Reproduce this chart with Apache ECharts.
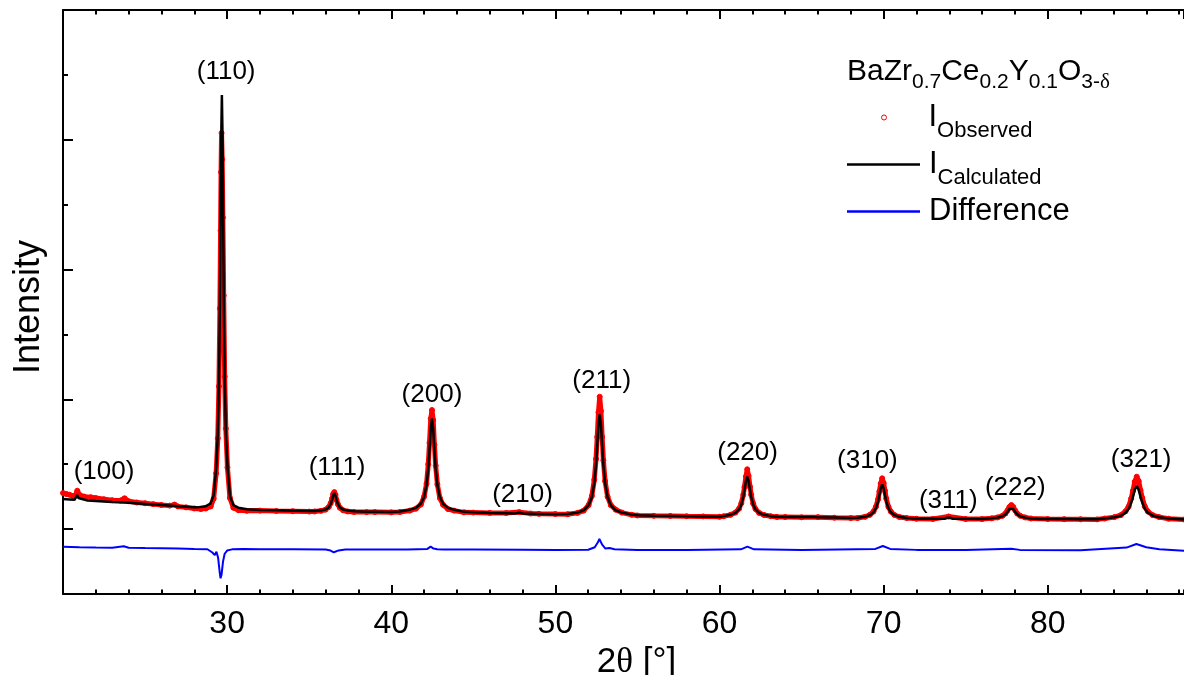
<!DOCTYPE html>
<html><head><meta charset="utf-8">
<script src="https://cdn.jsdelivr.net/npm/echarts@6/dist/echarts.min.js"></script>
<style>html,body{margin:0;padding:0;background:#fff}#c{width:1184px;height:675px}</style>
</head><body><div id="c"></div><script>
// ---- data (2θ in degrees, intensity in arbitrary units) ----
const observed = [
[20.0,1556],[20.2,1540],[20.4,1530],[20.6,1510],[20.75,1520],[20.87,1592],[21.0,1530],[21.3,1500],[21.7,1490],[22.0,1478],[22.5,1460],[23.0,1445],[23.5,1440],[23.75,1475],[24.0,1430],[24.5,1410],[25.0,1398],[25.5,1385],[26.0,1372],[26.5,1362],[26.8,1378],[27.0,1350],[27.5,1335],[28.0,1318],[28.4,1310],[28.7,1318],[29.0,1350],[29.18,1470],[29.33,1860],[29.43,2400],[29.50,3200],[29.56,4400],[29.60,5600],[29.63,6500],[29.66,7104],[29.70,6700],[29.74,5800],[29.79,4600],[29.85,3350],[29.92,2550],[30.02,1950],[30.17,1480],[30.38,1330],[30.7,1290],[31.2,1282],[32,1285],[33,1280],[34,1276],[35,1270],[35.33,1272],[35.72,1282],[35.99,1300],[36.19,1340],[36.31,1400],[36.395,1470],[36.46,1540],[36.53,1570],[36.60,1530],[36.665,1450],[36.75,1385],[36.87,1328],[37.07,1290],[37.34,1272],[37.73,1265],[38.5,1262],[39,1262],[40,1258],[40.53,1265],[41.13,1285],[41.505,1315],[41.805,1380],[42.0,1500],[42.15,1700],[42.255,2000],[42.33,2330],[42.405,2700],[42.48,2835],[42.555,2680],[42.63,2300],[42.705,1980],[42.81,1690],[42.96,1480],[43.155,1375],[43.455,1310],[43.83,1285],[44.43,1258],[45,1255],[46,1250],[47,1248],[47.8,1262],[48.5,1240],[49,1236],[50,1232],[50.75,1230],[51.35,1250],[51.725,1285],[52.025,1370],[52.22,1510],[52.37,1760],[52.475,2080],[52.55,2420],[52.625,2800],[52.70,3040],[52.775,2820],[52.85,2420],[52.925,2060],[53.03,1740],[53.18,1500],[53.375,1370],[53.675,1300],[54.05,1255],[54.65,1220],[55,1210],[56,1205],[57,1203],[58,1198],[59,1196],[60,1190],[60.25,1198],[60.67,1220],[60.97,1255],[61.19,1315],[61.33,1400],[61.45,1530],[61.52,1650],[61.61,1810],[61.69,1922],[61.77,1820],[61.86,1650],[61.93,1530],[62.05,1395],[62.19,1310],[62.41,1250],[62.71,1218],[63.13,1198],[63.5,1188],[64,1186],[65,1182],[66,1184],[67,1176],[68,1170],[68.41,1170],[68.87,1190],[69.16,1220],[69.38,1270],[69.53,1345],[69.66,1460],[69.74,1580],[69.82,1700],[69.91,1783],[70.0,1710],[70.08,1590],[70.16,1470],[70.29,1345],[70.44,1270],[70.66,1218],[70.95,1188],[71.41,1170],[72,1160],[73,1157],[73.96,1195],[75,1156],[76,1155],[76.58,1166],[76.94,1180],[77.24,1205],[77.42,1240],[77.54,1285],[77.66,1340],[77.78,1371],[77.90,1340],[78.02,1285],[78.14,1240],[78.32,1205],[78.62,1180],[78.98,1163],[80,1155],[81,1153],[82,1152],[83,1150],[83.47,1163],[84.06,1185],[84.45,1215],[84.74,1275],[84.93,1350],[85.08,1470],[85.19,1590],[85.30,1730],[85.42,1808],[85.54,1740],[85.65,1600],[85.76,1480],[85.91,1350],[86.10,1270],[86.40,1215],[86.79,1185],[87.37,1160],[88.3,1148]
];
const calculated = [
[20.0,1464],[20.4,1458],[20.7,1452],[20.8,1480],[20.87,1525],[20.94,1480],[21.05,1450],[21.5,1442],[22,1433],[23,1418],[24,1405],[25,1388],[26,1370],[27,1352],[28,1336],[28.2,1335],[28.68,1352],[28.98,1392],[29.18,1520],[29.33,1930],[29.43,2450],[29.50,3240],[29.56,4480],[29.60,5720],[29.64,7040],[29.68,7690],[29.72,7040],[29.76,5720],[29.80,4480],[29.86,3240],[29.93,2450],[30.03,1930],[30.18,1500],[30.38,1370],[30.68,1330],[31.2,1305],[32,1296],[33,1290],[34,1284],[35,1278],[35.33,1280],[35.72,1287],[35.99,1301],[36.19,1334],[36.31,1387],[36.395,1451],[36.46,1519],[36.53,1556],[36.60,1519],[36.665,1451],[36.75,1387],[36.87,1334],[37.07,1301],[37.34,1287],[37.73,1275],[38.5,1267],[39,1266],[40,1264],[40.53,1272],[41.13,1297],[41.505,1327],[41.805,1390],[42.0,1495],[42.15,1679],[42.255,1936],[42.33,2219],[42.405,2544],[42.48,2707],[42.555,2544],[42.63,2219],[42.705,1936],[42.81,1679],[42.96,1495],[43.155,1390],[43.455,1327],[43.83,1297],[44.43,1266],[45,1258],[46,1250],[47,1245],[47.6,1242],[47.8,1256],[48.0,1240],[49,1234],[50,1228],[50.75,1232],[51.35,1254],[51.725,1290],[52.025,1368],[52.22,1492],[52.37,1706],[52.475,1990],[52.55,2290],[52.625,2613],[52.70,2769],[52.775,2613],[52.85,2290],[52.925,1990],[53.03,1706],[53.18,1492],[53.375,1368],[53.675,1290],[54.05,1254],[54.65,1225],[55,1212],[56,1206],[57,1202],[58,1198],[59,1195],[60,1192],[60.25,1200],[60.67,1220],[60.97,1250],[61.19,1303],[61.33,1379],[61.45,1498],[61.52,1604],[61.61,1740],[61.69,1808],[61.77,1740],[61.86,1604],[61.93,1498],[62.05,1379],[62.19,1303],[62.41,1250],[62.71,1220],[63.13,1200],[63.5,1192],[64,1188],[65,1185],[65.7,1188],[66,1184],[67,1178],[68,1172],[68.41,1174],[68.87,1190],[69.16,1215],[69.38,1259],[69.53,1323],[69.66,1425],[69.74,1522],[69.82,1628],[69.91,1690],[70.0,1628],[70.08,1522],[70.16,1425],[70.29,1323],[70.44,1259],[70.66,1215],[70.95,1190],[71.41,1172],[71.8,1165],[72.5,1161],[73.2,1159],[73.7,1160],[73.85,1175],[73.96,1190],[74.07,1175],[74.22,1160],[75,1158],[76,1157],[76.58,1166],[76.94,1177],[77.24,1197],[77.42,1227],[77.54,1263],[77.66,1310],[77.78,1336],[77.90,1310],[78.02,1263],[78.14,1227],[78.32,1197],[78.62,1177],[78.98,1164],[79.5,1157],[80,1155],[81,1154],[82,1153],[83,1152],[83.47,1165],[84.06,1182],[84.45,1207],[84.74,1254],[84.93,1315],[85.08,1408],[85.19,1498],[85.30,1609],[85.42,1664],[85.54,1609],[85.65,1498],[85.76,1408],[85.91,1315],[86.10,1254],[86.40,1207],[86.79,1182],[87.37,1162],[88.3,1150]
];
const difference = [
[20.0,729],[21,720],[22,715],[23,712],[23.7,735],[24,712],[25,708],[26,705],[27,700],[28,693],[28.8,690],[29.1,640],[29.25,600],[29.35,650],[29.45,560],[29.55,330],[29.6,242],[29.66,300],[29.75,500],[29.85,620],[30.0,670],[30.3,688],[31,692],[32,690],[34,688],[36,685],[36.3,670],[36.5,643],[36.8,672],[37.2,684],[39,685],[41,685],[42.2,695],[42.4,730],[42.48,755],[42.58,700],[42.65,720],[42.8,690],[43.2,686],[45,684],[48,682],[50,680],[52,682],[52.4,720],[52.6,800],[52.68,848],[52.85,760],[53.05,700],[53.3,709],[53.6,690],[55,680],[58,678],[61.3,688],[61.7,729],[62.1,688],[65,678],[69.5,695],[69.95,740],[70.4,695],[72,680],[75,678],[77.78,698],[78.3,680],[82,675],[84.8,715],[85.4,770],[86.0,720],[86.8,688],[88.3,667]
];
const peakLabels = ['(100)','(110)','(111)','(200)','(210)','(211)','(220)','(310)','(311)','(222)','(321)'];
const peakLabelX = [22.5, 29.94, 36.7, 42.48, 48.0, 52.82, 61.71, 69.01, 73.94, 78.02, 85.69];
const peakLabelY = [1880, 8044, 1942, 3067, 1526, 3282, 2173, 2050, 1441, 1633, 2073];
const yMajorTicks = [1000, 3000, 5000, 7000];
const yMinorTicks = [2000, 4000, 6000, 8000];
const seriesNames = ['Observed', 'Calculated', 'Difference'];

// ---- chart ----
const FONT = '"Liberation Sans", Arial, sans-serif';
const SERIF = '"Liberation Serif", "Times New Roman", serif';
const chart = echarts.init(document.getElementById('c'), null, {renderer: 'canvas'});
const XMIN = 20, XMAX = 88.3, YMIN = 0, YMAX = 9000;
const legendRich = {
  m: {fontSize: 31, fontFamily: FONT, fontWeight: 'normal', color: '#000', lineHeight: 36, verticalAlign: 'middle'},
  s: {fontSize: 22, fontFamily: FONT, fontWeight: 'normal', color: '#000', lineHeight: 26, verticalAlign: 'bottom'},
  z: {fontSize: 4, fontFamily: FONT, color: '#000', lineHeight: 48, verticalAlign: 'middle'}
};
const legendFormatter = n => (n === 'Difference' ? '{m|Difference}' : '{m|I}{s|' + n + '}') + '{z|\u200b}';
function legendFor(name, icon, left, top, itemWidth, itemHeight, textPadLeft, itemStyle) {
  return {
    data: [itemStyle ? {name: name, icon: icon, itemStyle: itemStyle} : {name: name, icon: icon}],
    left: left, top: top, padding: 0, itemWidth: itemWidth, itemHeight: itemHeight, selectedMode: false,
    formatter: legendFormatter, textStyle: {rich: legendRich, padding: [0, 0, 0, textPadLeft]}
  };
}

function xAx(pos, interval, len, showLine, showLabel) {
  return {
    type: 'value', position: pos, min: XMIN, max: XMAX, interval: interval,
    axisLine: {show: showLine, onZero: false, lineStyle: {color: '#000', width: 2}},
    axisTick: {show: true, inside: true, length: len, lineStyle: {color: '#000', width: 2}},
    axisLabel: {show: showLabel, fontSize: 32, color: '#000', fontFamily: FONT, margin: 14,
      showMinLabel: false, showMaxLabel: false},
    splitLine: {show: false}
  };
}
const xMain = xAx('bottom', 10, 9, true, true);
xMain.name = '{a|2}{t|θ}{a| [°]}';
xMain.nameLocation = 'middle';
xMain.nameGap = 34;
xMain.nameTextStyle = {padding: [0, 0, 0, 26], rich: {
  a: {fontSize: 35, fontFamily: FONT, color: '#000'},
  t: {fontSize: 35, fontFamily: SERIF, color: '#000'}}};

function yAx(ticks, len, showLine) {
  return {
    type: 'value', position: 'left', min: YMIN, max: YMAX,
    axisLine: {show: showLine, onZero: false, lineStyle: {color: '#000', width: 2}},
    axisTick: {show: true, inside: true, length: len, customValues: ticks, lineStyle: {color: '#000', width: 2}},
    axisLabel: {show: false, customValues: ticks},
    splitLine: {show: false}
  };
}
const yMain = yAx(yMajorTicks, 10, true);
yMain.name = 'Intensity';
yMain.nameLocation = 'middle';
yMain.nameGap = 16;
yMain.nameRotate = 90;
yMain.nameTextStyle = {fontSize: 36, fontFamily: FONT, color: '#000', padding: [0, 10, 0, 0]};

const option = {
  animation: false,
  backgroundColor: '#fff',
  grid: {left: 63, right: 0, top: 10, bottom: 81, containLabel: false, outerBoundsMode: 'none'},
  title: {
    text: '{m|BaZr}{s|0.7}{m|Ce}{s|0.2}{m|Y}{s|0.1}{m|O}{s|3-}{d|δ}',
    left: 847, top: 57, padding: 0,
    textStyle: {fontWeight: 'normal', rich: {
      m: {fontSize: 30, fontFamily: FONT, fontWeight: 'normal', color: '#000', lineHeight: 36, verticalAlign: 'top'},
      s: {fontSize: 21, fontFamily: FONT, fontWeight: 'normal', color: '#000', lineHeight: 16, verticalAlign: 'bottom'},
      d: {fontSize: 21, fontFamily: SERIF, fontWeight: 'normal', color: '#000', lineHeight: 16, verticalAlign: 'bottom'}}}
  },
  legend: [
    legendFor(seriesNames[0], 'circle', 881, 102, 5, 5, 37,
              {color: 'transparent', borderColor: '#ff0000', borderWidth: 1}),
    legendFor(seriesNames[1], 'rect', 847, 149, 73, 2.5, 4),
    legendFor(seriesNames[2], 'rect', 847, 196, 73, 2.5, 4)
  ],
  xAxis: [xMain, xAx('bottom', 2, 4.5, false, false), xAx('top', 10, 9, true, false), xAx('top', 2, 4.5, false, false)],
  yAxis: [yMain, yAx(yMinorTicks, 5, false)],
  series: [
    {name: seriesNames[0], type: 'line', data: observed, xAxisIndex: 0, yAxisIndex: 0,
     symbol: 'circle', symbolSize: 5, showSymbol: true,
     itemStyle: {color: '#ff0000', borderColor: '#ff0000', borderWidth: 1},
     lineStyle: {color: '#ff0000', width: 5}, z: 2, silent: true},
    {name: seriesNames[1], type: 'line', data: calculated, xAxisIndex: 0, yAxisIndex: 0,
     symbol: 'none', itemStyle: {color: '#000'}, lineStyle: {color: '#000', width: 2.5}, z: 3, silent: true},
    {name: seriesNames[2], type: 'line', data: difference, xAxisIndex: 0, yAxisIndex: 0,
     symbol: 'none', itemStyle: {color: '#0000ff'}, lineStyle: {color: '#0000ff', width: 2}, z: 3, silent: true},
    {name: 'labels', type: 'scatter', xAxisIndex: 0, yAxisIndex: 0, symbolSize: 1,
     itemStyle: {color: 'rgba(0,0,0,0)', opacity: 1}, silent: true, z: 4,
     data: peakLabels.map((t, i) => ({name: t, value: [peakLabelX[i], peakLabelY[i]]})),
     label: {show: true, position: 'inside', formatter: '{b}', fontSize: 26, fontFamily: FONT, color: '#000', opacity: 1}}
  ]
};
chart.setOption(option);
</script></body></html>
